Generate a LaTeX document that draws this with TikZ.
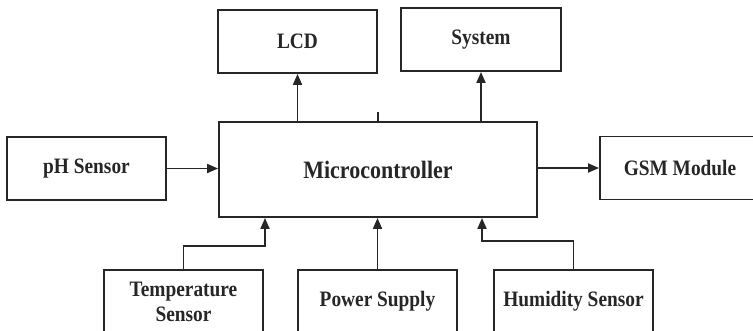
\documentclass[tikz,border=0pt]{standalone}
\usepackage{fontspec}
\setmainfont{Liberation Serif}[FakeStretch=0.88]
\usetikzlibrary{arrows.meta}
\begin{document}
\begin{tikzpicture}[x=1pt,y=-1pt,
  blk/.style={draw=black!85,line width=1.9pt,rectangle,minimum width=159pt,minimum height=63pt,inner sep=0pt,
    font=\fontsize{22}{25}\selectfont\bfseries,align=center,text=black!85},
  arr/.style={draw=black!85,line width=1.9pt,-{Triangle[length=11pt,width=9pt]}},
  ln/.style={draw=black!85,line width=1.9pt}]
\useasboundingbox (0,0) rectangle (753,330);
\clip (0,0) rectangle (753,330);
\node[blk,minimum width=318pt,minimum height=95pt,font=\fontsize{25}{28}\selectfont\bfseries] (micro) at (378,169.5) {Microcontroller};
\node[blk] (lcd) at (297.5,41.5) {LCD};
\node[blk,minimum width=160pt] (sys) at (481,39.5) {System};
\node[blk] (ph) at (86.5,168.5) {pH Sensor};
\node[blk,minimum width=160pt] (gsm) at (680,168) {GSM Module};
\node[blk] (temp) at (183.5,301.5) {Temperature\\Sensor};
\node[blk] (pow) at (377.5,301.5) {Power Supply};
\node[blk] (hum) at (573.5,301.5) {Humidity Sensor};
\draw[arr] (micro.north -| lcd.south) -- (lcd.south);
\draw[arr] (micro.north -| sys.south) -- (sys.south);
\draw[ln,line width=1.2pt] (micro.north) -- ++(0,-9);
\draw[arr] (ph.east) -- (ph.east -| micro.west);
\draw[arr] (micro.east |- gsm.west) -- (gsm.west);
\draw[arr] (temp.north) -- ++(0,-23) -| ([xshift=-113pt]micro.south);
\draw[arr] (pow.north) -- (pow.north |- micro.south);
\draw[arr] (hum.north) -- ++(0,-28) -| ([xshift=104pt]micro.south);
\end{tikzpicture}
\end{document}
